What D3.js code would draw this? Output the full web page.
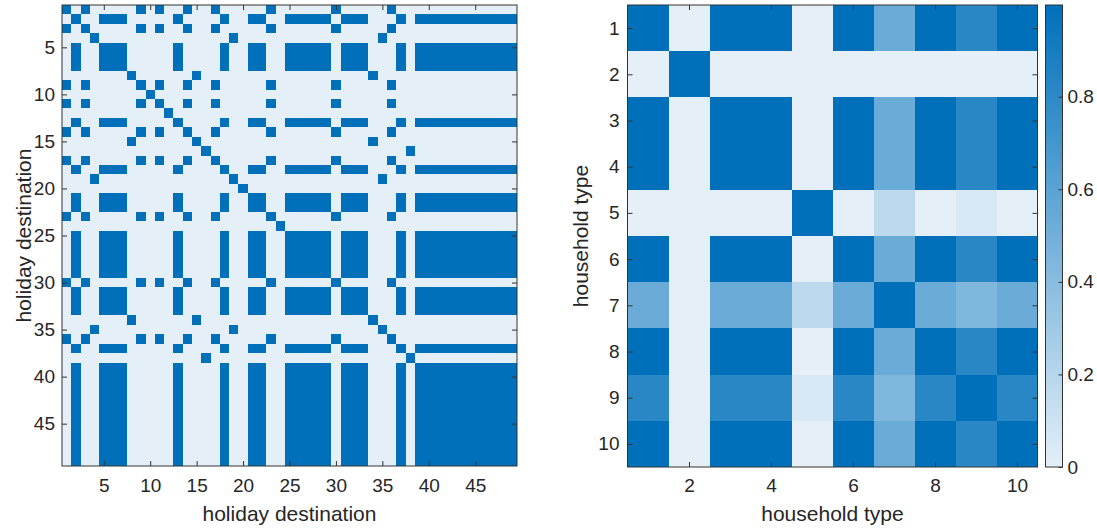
<!DOCTYPE html>
<html><head><meta charset="utf-8">
<script src="https://cdn.jsdelivr.net/npm/d3@7"></script>
<style>
body{margin:0;background:#fff}
svg{display:block}
text{font-family:"Liberation Sans",Arial,Helvetica,sans-serif;fill:#262626}
</style>
</head><body>
<svg id="c" width="1097" height="530"></svg>
<script>
// ---------- data ----------
// Left: binary co-membership matrix of 49 holiday destinations (1 = blue)
const destRows = [
  "1010000010 1001001000 0010000001 0000010000 000000000", // 1
  "0100111000 0010000100 1100111110 1110001011 111111111", // 2
  "1010000010 1001001000 0010000001 0000010000 000000000", // 3
  "0001000000 0000000010 0000000000 0000100000 000000000", // 4
  "0100111000 0010000100 1100111110 1110001011 111111111", // 5
  "0100111000 0010000100 1100111110 1110001011 111111111", // 6
  "0100111000 0010000100 1100111110 1110001011 111111111", // 7
  "0000000100 0000100000 0000000000 0001000000 000000000", // 8
  "1010000010 1001001000 0010000001 0000010000 000000000", // 9
  "0000000001 0000000000 0000000000 0000000000 000000000", // 10
  "1010000010 1001001000 0010000001 0000010000 000000000", // 11
  "0000000000 0100000000 0000000000 0000000000 000000000", // 12
  "0100111000 0010000100 1100111110 1110001011 111111111", // 13
  "1010000010 1001001000 0010000001 0000010000 000000000", // 14
  "0000000100 0000100000 0000000000 0001000000 000000000", // 15
  "0000000000 0000010000 0000000000 0000000100 000000000", // 16
  "1010000010 1001001000 0010000001 0000010000 000000000", // 17
  "0100111000 0010000100 1100111110 1110001011 111111111", // 18
  "0001000000 0000000010 0000000000 0000100000 000000000", // 19
  "0000000000 0000000001 0000000000 0000000000 000000000", // 20
  "0100111000 0010000100 1100111110 1110001011 111111111", // 21
  "0100111000 0010000100 1100111110 1110001011 111111111", // 22
  "1010000010 1001001000 0010000001 0000010000 000000000", // 23
  "0000000000 0000000000 0001000000 0000000000 000000000", // 24
  "0100111000 0010000100 1100111110 1110001011 111111111", // 25
  "0100111000 0010000100 1100111110 1110001011 111111111", // 26
  "0100111000 0010000100 1100111110 1110001011 111111111", // 27
  "0100111000 0010000100 1100111110 1110001011 111111111", // 28
  "0100111000 0010000100 1100111110 1110001011 111111111", // 29
  "1010000010 1001001000 0010000001 0000010000 000000000", // 30
  "0100111000 0010000100 1100111110 1110001011 111111111", // 31
  "0100111000 0010000100 1100111110 1110001011 111111111", // 32
  "0100111000 0010000100 1100111110 1110001011 111111111", // 33
  "0000000100 0000100000 0000000000 0001000000 000000000", // 34
  "0001000000 0000000010 0000000000 0000100000 000000000", // 35
  "1010000010 1001001000 0010000001 0000010000 000000000", // 36
  "0100111000 0010000100 1100111110 1110001011 111111111", // 37
  "0000000000 0000010000 0000000000 0000000100 000000000", // 38
  "0100111000 0010000100 1100111110 1110001011 111111111", // 39
  "0100111000 0010000100 1100111110 1110001011 111111111", // 40
  "0100111000 0010000100 1100111110 1110001011 111111111", // 41
  "0100111000 0010000100 1100111110 1110001011 111111111", // 42
  "0100111000 0010000100 1100111110 1110001011 111111111", // 43
  "0100111000 0010000100 1100111110 1110001011 111111111", // 44
  "0100111000 0010000100 1100111110 1110001011 111111111", // 45
  "0100111000 0010000100 1100111110 1110001011 111111111", // 46
  "0100111000 0010000100 1100111110 1110001011 111111111", // 47
  "0100111000 0010000100 1100111110 1110001011 111111111", // 48
  "0100111000 0010000100 1100111110 1110001011 111111111"  // 49
];
const destTicks = [5, 10, 15, 20, 25, 30, 35, 40, 45];

// Right: 10x10 household type matrix
const householdValues = [
  [0.998, 0.000, 0.998, 0.998, 0.000, 0.998, 0.535, 0.998, 0.815, 0.998],
  [0.000, 0.998, 0.000, 0.000, 0.000, 0.000, 0.000, 0.000, 0.000, 0.000],
  [0.998, 0.000, 0.998, 0.998, 0.000, 0.998, 0.535, 0.998, 0.815, 0.998],
  [0.998, 0.000, 0.998, 0.998, 0.000, 0.998, 0.535, 0.998, 0.815, 0.998],
  [0.000, 0.000, 0.000, 0.000, 0.998, 0.000, 0.170, 0.000, 0.053, 0.000],
  [0.998, 0.000, 0.998, 0.998, 0.000, 0.998, 0.535, 0.998, 0.815, 0.998],
  [0.535, 0.000, 0.535, 0.535, 0.170, 0.535, 0.998, 0.535, 0.440, 0.535],
  [0.998, 0.000, 0.998, 0.998, 0.000, 0.998, 0.535, 0.998, 0.815, 0.998],
  [0.815, 0.000, 0.815, 0.815, 0.053, 0.815, 0.440, 0.815, 0.998, 0.815],
  [0.998, 0.000, 0.998, 0.998, 0.000, 0.998, 0.535, 0.998, 0.815, 0.998]
];
const householdTicksX = [2, 4, 6, 8, 10];
const householdTicksY = [1, 2, 3, 4, 5, 6, 7, 8, 9, 10];
const colorbarTicks = [0, 0.2, 0.4, 0.6, 0.8];
const colorLimits = [0, 0.998];

// ---------- drawing ----------
const svg = d3.select("#c");
const LIGHT = "#e4eff8", DARK = "#0070bb", AXC = "#333333";
const TICK_FS = "19px", LABEL_FS = "21px";
const color = d3.scaleLinear().domain(colorLimits).range([LIGHT, DARK]).clamp(true);

function styleAxis(g) {
  g.select(".domain").remove();
  g.selectAll(".tick line").attr("stroke", AXC).attr("stroke-width", 1);
  g.selectAll(".tick text").attr("fill", "#262626").style("font-size", TICK_FS)
    .style("font-family", '"Liberation Sans",Arial,sans-serif');
}

function drawFrame(x0, x1, y0, y1, xs, ys, xt, yt, xPad, yPad) {
  const bx = svg.append("g").attr("transform", `translate(0,${y1})`)
    .call(d3.axisBottom(xs).tickValues(xt).tickSize(-5).tickPadding(xPad).tickFormat(d3.format("d")));
  styleAxis(bx);
  const tx = svg.append("g").attr("transform", `translate(0,${y0})`)
    .call(d3.axisTop(xs).tickValues(xt).tickSize(-5).tickFormat(""));
  styleAxis(tx);
  const ly = svg.append("g").attr("transform", `translate(${x0},0)`)
    .call(d3.axisLeft(ys).tickValues(yt).tickSize(-5).tickPadding(yPad).tickFormat(d3.format("d")));
  styleAxis(ly);
  const ry = svg.append("g").attr("transform", `translate(${x1},0)`)
    .call(d3.axisRight(ys).tickValues(yt).tickSize(-5).tickFormat(""));
  styleAxis(ry);
  svg.append("rect").attr("x", x0).attr("y", y0).attr("width", x1 - x0).attr("height", y1 - y0)
    .attr("fill", "none").attr("stroke", AXC).attr("stroke-width", 1);
}

// Left heatmap
const L = {x0: 62, x1: 517, y0: 5, y1: 466};
const n = destRows.length;
const xL = d3.scaleLinear().domain([0.5, n + 0.5]).range([L.x0, L.x1]);
const yL = d3.scaleLinear().domain([0.5, n + 0.5]).range([L.y0, L.y1]);
const leftCells = [];
destRows.forEach((s, r) => {
  s.replace(/ /g, "").split("").forEach((ch, c) => leftCells.push({r: r + 1, c: c + 1, v: +ch}));
});
svg.append("g").attr("shape-rendering", "crispEdges").selectAll("rect").data(leftCells).join("rect")
  .attr("x", d => xL(d.c - 0.5)).attr("y", d => yL(d.r - 0.5))
  .attr("width", d => xL(d.c + 0.5) - xL(d.c - 0.5))
  .attr("height", d => yL(d.r + 0.5) - yL(d.r - 0.5))
  .attr("fill", d => d.v ? DARK : LIGHT);
drawFrame(L.x0, L.x1, L.y0, L.y1, xL, yL, destTicks, destTicks, 13, 7);
svg.append("text").attr("x", (L.x0 + L.x1) / 2).attr("y", 521).attr("text-anchor", "middle")
  .style("font-size", LABEL_FS).text("holiday destination");
svg.append("text").attr("transform", `translate(31,${(L.y0 + L.y1) / 2}) rotate(-90)`)
  .attr("text-anchor", "middle").style("font-size", LABEL_FS).text("holiday destination");

// Right heatmap
const R = {x0: 627.5, x1: 1037.5, y0: 5, y1: 467};
const m = householdValues.length;
const xR = d3.scaleLinear().domain([0.5, m + 0.5]).range([R.x0, R.x1]);
const yR = d3.scaleLinear().domain([0.5, m + 0.5]).range([R.y0, R.y1]);
const rightCells = [];
householdValues.forEach((row, r) => row.forEach((v, c) => rightCells.push({r: r + 1, c: c + 1, v})));
svg.append("g").attr("shape-rendering", "crispEdges").selectAll("rect").data(rightCells).join("rect")
  .attr("x", d => xR(d.c - 0.5)).attr("y", d => yR(d.r - 0.5))
  .attr("width", d => xR(d.c + 0.5) - xR(d.c - 0.5))
  .attr("height", d => yR(d.r + 0.5) - yR(d.r - 0.5))
  .attr("fill", d => color(d.v));
drawFrame(R.x0, R.x1, R.y0, R.y1, xR, yR, householdTicksX, householdTicksY, 12, 8);
svg.append("text").attr("x", (R.x0 + R.x1) / 2).attr("y", 521).attr("text-anchor", "middle")
  .style("font-size", LABEL_FS).text("household type");
svg.append("text").attr("transform", `translate(588,${(R.y0 + R.y1) / 2}) rotate(-90)`)
  .attr("text-anchor", "middle").style("font-size", LABEL_FS).text("household type");

// Colorbar
const CB = {x0: 1045.5, x1: 1062.5, y0: 5, y1: 467};
const yC = d3.scaleLinear().domain(colorLimits).range([CB.y1, CB.y0]);
const grad = svg.append("defs").append("linearGradient").attr("id", "cbg")
  .attr("x1", 0).attr("y1", 1).attr("x2", 0).attr("y2", 0);
grad.append("stop").attr("offset", "0%").attr("stop-color", color(colorLimits[0]));
grad.append("stop").attr("offset", "100%").attr("stop-color", color(colorLimits[1]));
svg.append("rect").attr("x", CB.x0).attr("y", CB.y0).attr("width", CB.x1 - CB.x0).attr("height", CB.y1 - CB.y0)
  .attr("fill", "url(#cbg)").attr("stroke", AXC).attr("stroke-width", 1);
const cba = svg.append("g").attr("transform", `translate(${CB.x1},0)`)
  .call(d3.axisRight(yC).tickValues(colorbarTicks).tickSize(-4).tickPadding(5)
    .tickFormat(d => d === 0 ? "0" : d3.format(".1f")(d)));
styleAxis(cba);
</script>
</body></html>
